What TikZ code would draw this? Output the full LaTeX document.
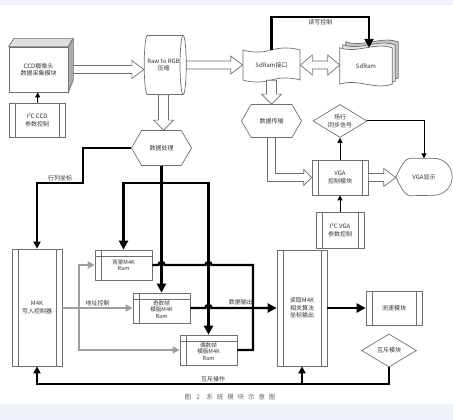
\documentclass[tikz,border=0pt]{standalone}
\usepackage{fontspec}
\setmainfont{Noto Sans CJK SC}
\newfontfamily\capfont[LetterSpace=60]{Noto Sans CJK SC}
\usetikzlibrary{shapes.geometric,shapes.symbols,positioning,arrows.meta,calc}
\definecolor{band}{HTML}{EEF3FA}
\definecolor{txt}{HTML}{333333}
\definecolor{edge}{HTML}{6E6E6E}
\tikzset{box/.style={draw=edge, line width=0.7pt, rectangle, inner sep=0pt, align=center, text=txt, font=\fontsize{6}{7.5}\selectfont},
  proc/.style={box, path picture={\draw[edge, line width=0.7pt] ([xshift=6pt]path picture bounding box.north west) -- ([xshift=6pt]path picture bounding box.south west) ([xshift=-6pt]path picture bounding box.north east) -- ([xshift=-6pt]path picture bounding box.south east);}},
  ram/.style={box, font=\fontsize{5.6}{6.4}\selectfont, path picture={\draw[edge, line width=0.7pt] ([xshift=6pt]path picture bounding box.north west) -- ([xshift=6pt]path picture bounding box.south west) ([yshift=-6pt]path picture bounding box.north west) -- ([yshift=-6pt]path picture bounding box.north east);}},
  hexa/.style={box, signal, signal to=east and west, signal pointer angle=120},
  dia/.style={box, diamond, aspect=1.6},
  hollow/.style={draw=edge, fill=white, line width=0.7pt},
  lbl/.style={text=txt, font=\fontsize{6}{7.5}\selectfont, inner sep=1.5pt}}

% hollow block arrows between anchors
\newcommand{\fatright}[2]{\draw[hollow] let \p1=(#1), \p2=(#2) in
  (\x1,\y1+4pt) -- (\x2-12pt,\y1+4pt) -- (\x2-12pt,\y1+9pt) -- (\x2,\y1) -- (\x2-12pt,\y1-9pt) -- (\x2-12pt,\y1-4pt) -- (\x1,\y1-4pt) -- cycle;}
\newcommand{\fatdown}[2]{\draw[hollow] let \p1=(#1), \p2=(#2) in
  (\x1-5pt,\y1) -- (\x1-5pt,\y2+10pt) -- (\x1-10pt,\y2+10pt) -- (\x1,\y2) -- (\x1+10pt,\y2+10pt) -- (\x1+5pt,\y2+10pt) -- (\x1+5pt,\y1) -- cycle;}
\newcommand{\fatboth}[2]{\draw[hollow] let \p1=(#1), \p2=(#2) in
  (\x1,\y1) -- (\x1+12pt,\y1+10pt) -- (\x1+12pt,\y1+4pt) -- (\x2-12pt,\y1+4pt) -- (\x2-12pt,\y1+10pt) -- (\x2,\y1) -- (\x2-12pt,\y1-10pt) -- (\x2-12pt,\y1-4pt) -- (\x1+12pt,\y1-4pt) -- (\x1+12pt,\y1-10pt) -- cycle;}

\begin{document}
\begin{tikzpicture}[x=1pt, y=-1pt,
  bigarr/.style={draw, line width=2.4pt, -{Triangle[length=9pt,width=9pt]}},
  bigline/.style={draw, line width=2.4pt},
  midarr/.style={draw, line width=1.8pt, -{Triangle[length=7pt,width=7pt]}},
  thinarr/.style={draw, line width=1pt, -{Triangle[length=5pt,width=5pt]}},
  grayarr/.style={draw=gray!75, line width=1.6pt, -{Triangle[length=7pt,width=7pt]}}]
\useasboundingbox (0,0) rectangle (453,420);
\fill[band] (0,0) rectangle (453,5);
\fill[band] (0,404) rectangle (453,420);

% top row
\node[box, minimum width=59pt, minimum height=45pt] (ccd) at (38.5,69.5) {CCD摄像头\\数据采集模块};
\draw[edge, line width=0.7pt, fill=gray!25] (ccd.north west) -- ++(5,-8) -- ++(59,0) -- (ccd.north east) -- cycle;
\draw[edge, line width=0.7pt, fill=gray!65] (ccd.north east) -- ++(5,-8) -- ++(0,41) -- (ccd.south east) -- cycle;
\node[proc, minimum width=56pt, minimum height=34pt] (i2cccd) at (37,120) {I²C CCD\\参数控制};
\node[box, cylinder, shape aspect=0.5, minimum width=59pt, minimum height=34pt] (rgb) at (163.5,65) {Raw to RGB\\压缩};
\node[box, tape, shape border rotate=90, tape bend height=4pt, minimum width=57pt, minimum height=34pt] (sdif) at (271.5,65) {SdRam接口};
\node[minimum width=52pt, minimum height=36pt, inner sep=0pt] (sdram) at (366,66) {};
\foreach \d/\c in {6/gray!45, 3/gray!20, 0/white}
  \draw[edge, line width=0.7pt, fill=\c] ([shift={(\d,-\d)}]sdram.north west) .. controls +(18,6) and +(-18,-6) .. ([shift={(\d,-\d)}]sdram.north east) -- ([shift={(\d,-\d)}]sdram.south east) .. controls +(-18,6) and +(18,-6) .. ([shift={(\d,-\d)}]sdram.south west) -- cycle;
\node[lbl] at (sdram) {SdRam};

% middle
\node[hexa, minimum width=60pt, minimum height=35pt] (dproc) at (161.5,148) {数据处理};
\node[hexa, minimum width=60pt, minimum height=33pt] (dtrans) at (271.5,121) {数据传输};
\node[dia, minimum width=54pt, minimum height=33pt] (sync) at (340,121) {场行\\同步信号};
\node[proc, minimum width=56pt, minimum height=35pt] (vgactl) at (340,177.5) {VGA\\控制模块};
\node[minimum width=56pt, minimum height=37pt, inner sep=0pt, lbl] (vgadisp) at (424,177) {VGA显示};
\draw[edge, line width=0.7pt] (vgadisp.west) .. controls +(5,-10) and +(-5,0) .. ([xshift=14pt]vgadisp.north west) -- ([xshift=-18.5pt]vgadisp.north east) arc[start angle=90, end angle=-90, radius=18.5pt] -- ([xshift=14pt]vgadisp.south west) .. controls +(-5,0) and +(5,10) .. (vgadisp.west);
\node[proc, minimum width=48pt, minimum height=36pt] (i2cvga) at (340,230) {I²C VGA\\参数控制};

% bottom
\node[proc, minimum width=50pt, minimum height=117pt] (writer) at (37,307.5) {M4K\\写入控制器};
\node[ram, minimum width=57pt, minimum height=30pt] (bgram) at (123.5,265) {背景M4K\\Ram};
\node[ram, minimum width=57pt, minimum height=30pt] (oddram) at (161.5,308) {\rule{0pt}{8pt}奇数帧\\模版M4K\\Ram};
\node[ram, minimum width=57pt, minimum height=30pt] (evenram) at (208.5,350) {\rule{0pt}{8pt}偶数帧\\模版M4K\\Ram};
\node[proc, minimum width=50pt, minimum height=116pt] (reader) at (302,308) {读取M4K\\相关算法\\坐标输出};
\node[proc, minimum width=56pt, minimum height=34pt] (speed) at (394,308) {测速模块};
\node[dia, minimum width=55pt, minimum height=33pt] (mutex) at (389,350.5) {互斥模块};
\node[lbl, font=\capfont\fontsize{6.5}{8}\selectfont, text=gray!80!black] (cap) at (230,397) {图 2\quad 系统模块示意图};

% hollow arrows
\fatright{[xshift=5pt]ccd.east}{rgb.west}
\fatright{rgb.east}{sdif.west}
\fatdown{rgb.south}{dproc.north}
\fatboth{sdif.east}{sdram.west}
\fatdown{sdif.south}{dtrans.north}
\fatright{vgactl.east}{vgadisp.west}
\draw[hollow] let \p1=(dtrans.south), \p2=(vgactl.west) in
  (\x1-4pt,\y1) -- (\x1-4pt,\y2-4pt) -- (\x2-8pt,\y2-4pt) -- (\x2-8pt,\y2-8pt) -- (\x2,\y2) -- (\x2-8pt,\y2+8pt) -- (\x2-8pt,\y2+4pt) -- (\x1+4pt,\y2+4pt) -- (\x1+4pt,\y1) -- cycle;

% thin arrows
\draw[thinarr] (i2cccd) -- (ccd);
\draw[thinarr] (vgactl) -- (sync);
\draw[thinarr] (sync.east) -| (vgadisp.north);
\draw[thinarr] (i2cvga) -- (vgactl);

% read/write control
\draw[bigarr] (sdif.north) -- ++(0,-33) -| node[pos=0.25, below, lbl]{读写控制} ([xshift=3pt]sdram.north);

% data bus to the M4K rams
\coordinate (bus) at (161.5,183);
\draw[bigline] (dproc.south) -- (bus);
\draw[bigarr] (bus) -| (bgram.north);
\draw[bigarr] (bus) -- (oddram.north);
\draw[bigarr] (bus) -| (evenram.north);
\draw[bigline] (bgram.east) -- (158.5,265) arc[start angle=180, end angle=0, radius=3pt] -- (205.5,265) arc[start angle=180, end angle=0, radius=3pt] -- (253,265) -- (253,350) -- (evenram.east);
\draw[bigarr] (oddram.east) -- (205.5,308) arc[start angle=180, end angle=0, radius=3pt] -- node[pos=0.45, above, lbl]{数据输出} (reader.west);
\draw[bigarr] (reader.east) -- (speed.west);

% row/column coordinates
\draw[midarr] (dproc.west) -| (83,183) -| node[pos=0.25, above, lbl]{行列坐标} (writer.north);

% address control
\coordinate (addr) at (79,308);
\draw[grayarr] (writer.east |- oddram.west) -- node[pos=0.5, above, lbl]{地址控制} (oddram.west);
\draw[grayarr] (addr) |- (bgram.west);
\draw[grayarr] (addr) |- (evenram.west);

% mutual exclusion
\coordinate (mline) at (0,384);
\draw[midarr] (mutex.south) |- node[pos=0.75, above, lbl]{互斥操作} (writer.south |- mline) -- (writer.south);
\draw[midarr] (reader.south |- mline) -- (reader.south);
\end{tikzpicture}
\end{document}
